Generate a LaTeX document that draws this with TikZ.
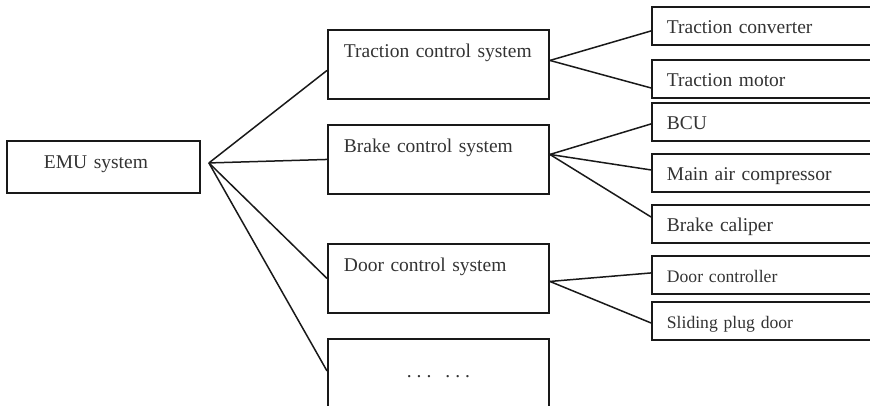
\documentclass[tikz,border=0pt]{standalone}
\usepackage{fontspec}
\setmainfont{Liberation Serif}
\usepackage{tikz}

\begin{document}
\begin{tikzpicture}[x=1pt,y=1pt]
\tikzstyle{every node}+=[inner sep=0pt]
\tikzstyle{box}=[draw=black!90, line width=1.9pt, text=black!80, anchor=north west, align=left]
\tikzstyle{sysbox}=[box, font=\fontsize{19.5}{22}\selectfont, inner xsep=16pt, text width=189pt, text height=28pt, text depth=41pt]
\tikzstyle{partbox}=[box, font=\fontsize{19.5}{22}\selectfont, inner xsep=15pt, text width=260pt, text height=27pt, text depth=11pt]
\tikzstyle{smallpart}=[partbox, font=\fontsize{17.6}{20}\selectfont]
\tikzstyle{link}=[draw=black!90, line width=1.5pt]
\useasboundingbox (0,0) rectangle (870,-406);
\clip (0,0) rectangle (870,-406);
\node [box, font=\fontsize{19.5}{22}\selectfont, inner xsep=37pt, text width=119pt, text height=28pt, text depth=24pt] (emu) at (6,-140) {EMU system};
\node [sysbox] (tcs) at (327,-29) {Traction control system};
\node [sysbox] (bcs) at (327,-124) {Brake control system};
\node [sysbox] (dcs) at (327,-243) {Door control system};
\node [sysbox, align=center, inner xsep=0pt, text width=221pt, text height=39pt, text depth=33pt] (more) at (327,-338) {.\kern5pt.\kern5pt.\kern14pt.\kern5pt.\kern5pt.};
\node [partbox] (tconv) at (651,-6) {Traction converter};
\node [partbox] (tmotor) at (651,-59) {Traction motor};
\node [partbox] (bcu) at (651,-102) {BCU};
\node [partbox] (comp) at (651,-153) {Main air compressor};
\node [partbox] (calip) at (651,-204) {Brake caliper};
\node [smallpart] (dctrl) at (651,-255) {Door controller};
\node [smallpart] (plug) at (651,-301) {Sliding plug door};
\coordinate (emufan) at ([xshift=8pt,yshift=4pt]emu.east);
\coordinate (tcsfan) at ([yshift=4pt]tcs.east);
\coordinate (bcsfan) at ([yshift=5pt]bcs.east);
\coordinate (dcsfan) at ([yshift=-3pt]dcs.east);
\draw [link] (emufan) -- ([yshift=-6pt]tcs.west);
\draw [link] (emufan) -- (bcs.west);
\draw [link] (emufan) -- (dcs.west);
\draw [link] (emufan) -- ([yshift=4pt]more.west);
\draw [link] (tcsfan) -- ([yshift=-5pt]tconv.west);
\draw [link] (tcsfan) -- ([yshift=-9pt]tmotor.west);
\draw [link] (bcsfan) -- ([yshift=-2pt]bcu.west);
\draw [link] (bcsfan) -- ([yshift=3pt]comp.west);
\draw [link] (bcsfan) -- ([yshift=7pt]calip.west);
\draw [link] (dcsfan) -- ([yshift=2pt]dctrl.west);
\draw [link] (dcsfan) -- ([yshift=-2pt]plug.west);
\end{tikzpicture}
\end{document}
